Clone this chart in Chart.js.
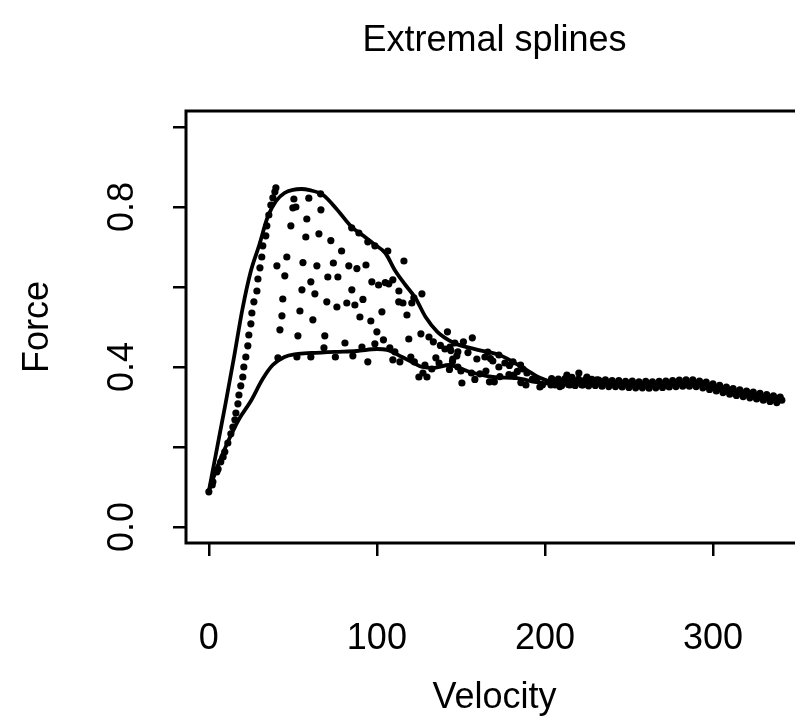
<!DOCTYPE html>
<html>
<head>
<meta charset="utf-8">
<script src="https://cdn.jsdelivr.net/npm/chart.js@4.4.0/dist/chart.umd.min.js"></script>
<style>
  html, body { margin: 0; padding: 0; background: #fff; overflow: hidden; }
  #wrap { width: 795px; height: 724px; overflow: hidden; }
</style>
</head>
<body>
<div id="wrap"><canvas id="myChart" width="830" height="724"></canvas></div>
<script>
// axis ticks
const xTicks = [0, 100, 200, 300];
const yTicks = [0, 0.2, 0.4, 0.6, 0.8, 1.0];
const yLabelled = [0, 0.4, 0.8];

// upper extremal spline
const upperVelocity = [0, 5, 10, 15, 20, 25, 30, 35, 40, 45, 50, 55, 60, 68, 76, 85, 92, 99, 105, 111, 117, 123, 129, 136, 146, 160, 173, 181, 189, 197, 205, 220, 240, 260, 280, 290, 300, 312, 326, 340];
const upperForce = [0.09, 0.20, 0.31, 0.425, 0.545, 0.64, 0.705, 0.775, 0.815, 0.835, 0.843, 0.845, 0.842, 0.83, 0.795, 0.75, 0.728, 0.705, 0.685, 0.64, 0.605, 0.572, 0.525, 0.488, 0.46, 0.443, 0.43, 0.413, 0.393, 0.373, 0.363, 0.362, 0.359, 0.356, 0.359, 0.36, 0.35, 0.338, 0.328, 0.318];

// lower extremal spline
const lowerVelocity = [0, 5, 11, 18, 25, 32, 38, 45, 52, 61, 75, 88, 100, 106, 115, 121, 127, 134, 143, 149, 155, 169, 183, 195, 205, 220, 240, 260, 280, 290, 300, 312, 326, 340];
const lowerForce = [0.09, 0.15, 0.21, 0.27, 0.315, 0.37, 0.405, 0.425, 0.432, 0.435, 0.438, 0.44, 0.445, 0.443, 0.425, 0.412, 0.40, 0.398, 0.405, 0.398, 0.388, 0.375, 0.372, 0.362, 0.358, 0.36, 0.358, 0.355, 0.357, 0.358, 0.35, 0.337, 0.328, 0.317];

// steep dotted rise near the origin
const chainVelocity = [0, 2.4, 4.8, 7.1, 9.5, 11.3, 13.1, 14.3, 15.5, 16.1, 17.3, 17.9, 19.0, 20.2, 20.8, 22.0, 23.2, 23.8, 25.0, 25.6, 26.8, 28.6, 29.2, 30.4, 31.5, 32.1, 33.9, 34.5, 35.7, 36.9, 38.1, 39.3, 39.9];
const chainForce = [0.088, 0.113, 0.138, 0.163, 0.188, 0.21, 0.233, 0.25, 0.268, 0.285, 0.308, 0.33, 0.353, 0.375, 0.40, 0.425, 0.453, 0.48, 0.508, 0.535, 0.563, 0.59, 0.62, 0.648, 0.675, 0.703, 0.728, 0.753, 0.78, 0.805, 0.823, 0.838, 0.848];

// scattered observations between the splines
const midVelocity = [2.0, 5.5, 8.5, 50.6, 59.5, 66.5, 50.0, 51.8, 66.7, 58.3,
  48.8, 57.7, 65.5, 72.6, 79.0, 85.0, 89.3, 94.6, 98.8, 106.5,
  116.1, 46.4, 56.0, 64.3, 74.1, 83.3, 88.1, 93.5, 40.5, 45.2,
  70.8, 76.8, 97.0, 101.0, 105.0, 107.1, 109.5, 113.1, 60.7, 55.4,
  63.1, 85.1, 44.0, 70.2, 76.2, 82.1, 86.9, 91.7, 122.0, 126.8,
  113.0, 115.5, 120.8, 103.0, 54.2, 43.5, 61.9, 89.9, 96.4, 117.9,
  42.3, 100.0, 53.0, 69.0, 103.9, 126.2, 131.0, 133.6, 142.0, 137.8,
  140.5, 144.0, 119.0, 81.0, 91.1, 98.8, 107.7, 68.5, 41.1, 52.4,
  60.7, 75.3, 85.7, 94.6, 109.5, 110.7, 113.7, 120.2, 122.3, 128.6,
  135.1, 137.0, 143.2, 145.0, 125.0, 129.8, 127.4, 132.7, 146.4, 148.2,
  151.5, 156.8, 154.2, 159.5, 166.0, 167.6, 169.0, 164.3, 172.6, 172.6,
  176.2, 178.9, 181.0, 183.6, 185.5, 186.9, 189.3, 147.6, 145.2, 143.5,
  148.2, 150.0, 156.3, 158.3, 161.3, 164.9, 167.0, 169.9, 173.2, 178.6,
  181.5, 185.7, 188.7, 192.6, 195.2, 198.5, 203.6, 208.9, 213.1, 216.1,
  220.2, 225.0, 231.0, 214.9, 222.6, 228.0, 210.7, 197.0, 150.6];
const midForce = [0.105, 0.145, 0.175, 0.82, 0.822, 0.833, 0.798, 0.80, 0.793, 0.77,
  0.753, 0.725, 0.733, 0.716, 0.69, 0.748, 0.735, 0.713, 0.703, 0.69,
  0.665, 0.675, 0.661, 0.653, 0.66, 0.653, 0.646, 0.655, 0.653, 0.628,
  0.625, 0.625, 0.613, 0.605, 0.611, 0.608, 0.618, 0.59, 0.613, 0.593,
  0.583, 0.593, 0.57, 0.563, 0.55, 0.56, 0.555, 0.569, 0.573, 0.583,
  0.563, 0.56, 0.56, 0.538, 0.54, 0.528, 0.518, 0.525, 0.515, 0.53,
  0.493, 0.488, 0.478, 0.478, 0.468, 0.483, 0.475, 0.463, 0.488, 0.454,
  0.445, 0.441, 0.47, 0.46, 0.45, 0.458, 0.448, 0.448, 0.423, 0.425,
  0.425, 0.425, 0.428, 0.413, 0.418, 0.438, 0.413, 0.425, 0.413, 0.405,
  0.423, 0.41, 0.394, 0.414, 0.375, 0.375, 0.385, 0.395, 0.46, 0.438,
  0.463, 0.473, 0.436, 0.42, 0.437, 0.421, 0.415, 0.425, 0.43, 0.40,
  0.41, 0.404, 0.413, 0.389, 0.405, 0.395, 0.385, 0.428, 0.42, 0.45,
  0.40, 0.39, 0.385, 0.369, 0.383, 0.39, 0.363, 0.363, 0.376, 0.381,
  0.38, 0.361, 0.355, 0.37, 0.37, 0.355, 0.355, 0.351, 0.38, 0.374,
  0.385, 0.375, 0.368, 0.355, 0.355, 0.36, 0.363, 0.35, 0.36];

// dense tail of points at high velocity (three rows)
const tailVelocityA = [204, 208, 212, 216, 220, 224, 228, 232, 236, 240, 244, 248, 252, 256, 260, 264, 268, 272, 276, 280, 284, 288, 292, 296, 300, 304, 308, 312, 316, 320, 324, 328, 332, 336, 340];
const tailForceA = [0.371, 0.370, 0.371, 0.369, 0.370, 0.368, 0.369, 0.367, 0.368, 0.366, 0.366, 0.364, 0.365, 0.363, 0.364, 0.363, 0.364, 0.365, 0.366, 0.367, 0.368, 0.368, 0.365, 0.362, 0.358, 0.354, 0.350, 0.346, 0.343, 0.340, 0.337, 0.334, 0.331, 0.328, 0.325];
const tailVelocityB = [206, 210, 214, 218, 222, 226, 230, 234, 238, 242, 246, 250, 254, 258, 262, 266, 270, 274, 278, 282, 286, 290, 294, 298, 302, 306, 310, 314, 318, 322, 326, 330, 334, 338];
const tailForceB = [0.355, 0.354, 0.356, 0.354, 0.355, 0.353, 0.354, 0.352, 0.351, 0.351, 0.350, 0.349, 0.348, 0.348, 0.347, 0.348, 0.349, 0.350, 0.351, 0.352, 0.352, 0.351, 0.348, 0.344, 0.340, 0.336, 0.332, 0.329, 0.326, 0.323, 0.320, 0.317, 0.314, 0.311];
const tailVelocityC = [205, 209, 213, 217, 221, 225, 229, 233, 237, 241, 245, 249, 253, 257, 261, 265, 269, 273, 277, 281, 285, 289, 293, 297, 301, 305, 309, 313, 317, 321, 325, 329, 333, 337, 341];
const tailForceC = [0.363, 0.362, 0.363, 0.362, 0.362, 0.361, 0.361, 0.360, 0.360, 0.359, 0.358, 0.357, 0.357, 0.356, 0.356, 0.356, 0.357, 0.358, 0.359, 0.360, 0.360, 0.360, 0.357, 0.353, 0.349, 0.345, 0.341, 0.337, 0.334, 0.331, 0.328, 0.325, 0.322, 0.319, 0.317];

const pairs = (xs, ys) => xs.map((v, i) => ({ x: v, y: ys[i] }));

const FONT = 'Liberation Sans, Arial, Helvetica, sans-serif';

// R style box around the plot region
const boxPlugin = {
    id: 'box',
    afterDraw(chart) {
        const { ctx, chartArea } = chart;
        ctx.save();
        ctx.strokeStyle = '#000';
        ctx.lineWidth = 3;
        ctx.strokeRect(chartArea.left, chartArea.top, chartArea.right - chartArea.left, chartArea.bottom - chartArea.top);
        ctx.restore();
    }
};

const dotStyle = { showLine: false, pointRadius: 3.6, pointBackgroundColor: '#000', pointBorderColor: '#000', pointBorderWidth: 0 };
const lineStyle = { showLine: true, pointRadius: 0, borderColor: '#000', borderWidth: 3.8, cubicInterpolationMode: 'monotone', fill: false };

const ctx = document.getElementById('myChart').getContext('2d');

new Chart(ctx, {
    type: 'scatter',
    data: {
        datasets: [
            { label: 'Upper', data: pairs(upperVelocity, upperForce), ...lineStyle },
            { label: 'Lower', data: pairs(lowerVelocity, lowerForce), ...lineStyle },
            { label: 'Rise', data: pairs(chainVelocity, chainForce), ...dotStyle },
            { label: 'Middle', data: pairs(midVelocity, midForce), ...dotStyle },
            { label: 'TailA', data: pairs(tailVelocityA, tailForceA), ...dotStyle },
            { label: 'TailB', data: pairs(tailVelocityB, tailForceB), ...dotStyle },
            { label: 'TailC', data: pairs(tailVelocityC, tailForceC), ...dotStyle }
        ]
    },
    options: {
        responsive: false,
        animation: false,
        devicePixelRatio: 1,
        layout: { padding: { left: 0, right: 27, top: 0, bottom: 0 } },
        plugins: {
            legend: { display: false },
            tooltip: { enabled: false },
            title: {
                display: true,
                text: 'Extremal splines',
                fullSize: false,
                color: '#000',
                font: { family: FONT, size: 36, weight: 'normal' },
                padding: { top: 19, bottom: 48.8 }
            }
        },
        scales: {
            x: {
                type: 'linear',
                min: -13.6,
                max: 353.6,
                afterBuildTicks: s => { s.ticks = xTicks.map(v => ({ value: v })); },
                afterFit: s => { s.height = 181; },
                border: { display: false },
                grid: { display: true, drawOnChartArea: false, drawTicks: true, tickLength: 13, color: '#000', lineWidth: 2.5 },
                ticks: { color: '#000', padding: 61, maxRotation: 0, autoSkip: false, font: { family: FONT, size: 36 }, callback: v => String(v) },
                title: { display: true, text: 'Velocity', color: '#000', font: { family: FONT, size: 36 }, padding: { top: 0, bottom: 4 } }
            },
            y: {
                type: 'linear',
                min: -0.04,
                max: 1.04,
                afterBuildTicks: s => { s.ticks = yTicks.map(v => ({ value: v })); },
                afterFit: s => { s.width = 186; },
                border: { display: false },
                grid: { display: true, drawOnChartArea: false, drawTicks: true, tickLength: 13, color: '#000', lineWidth: 2.5 },
                ticks: {
                    color: '#000', padding: 25, minRotation: 90, maxRotation: 90, crossAlign: 'center', autoSkip: false,
                    font: { family: FONT, size: 36 },
                    callback: v => yLabelled.includes(v) ? v.toFixed(1) : ''
                },
                title: { display: true, text: 'Force', color: '#000', font: { family: FONT, size: 36 }, padding: { top: 16, bottom: 0 } }
            }
        }
    },
    plugins: [boxPlugin]
});
</script>
</body>
</html>
